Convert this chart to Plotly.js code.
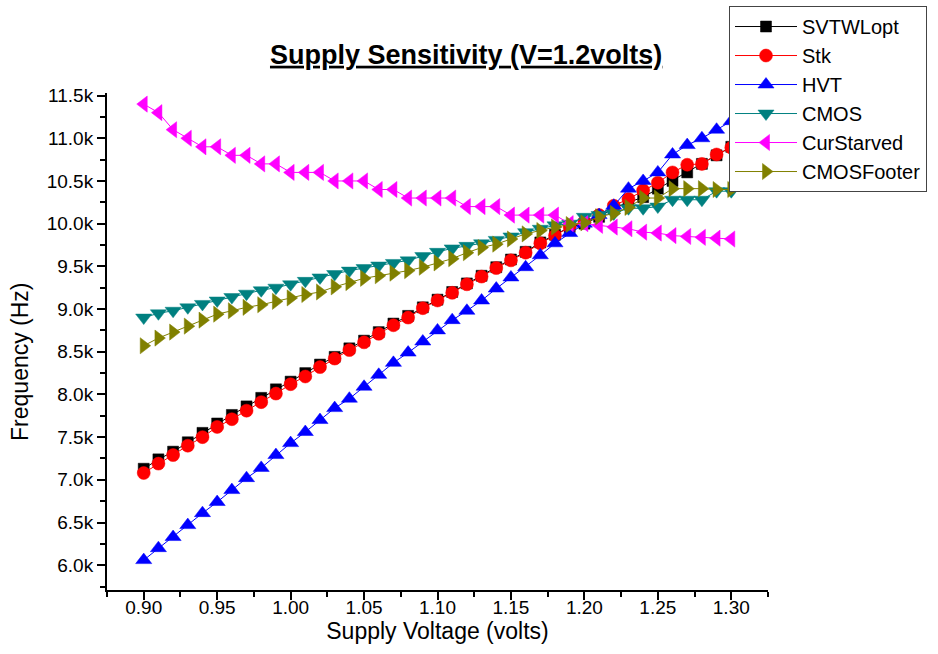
<!DOCTYPE html>
<html>
<head>
<meta charset="utf-8">
<script src="https://cdn.plot.ly/plotly-3.0.1.min.js"></script>
<style>
html,body{margin:0;padding:0;background:#fff;}
#chart{width:938px;height:654px;}
</style>
</head>
<body>
<div id="chart"></div>
<script>
// Supply voltage (volts)
var voltage = [0.90,0.91,0.92,0.93,0.94,0.95,0.96,0.97,0.98,0.99,
               1.00,1.01,1.02,1.03,1.04,1.05,1.06,1.07,1.08,1.09,
               1.10,1.11,1.12,1.13,1.14,1.15,1.16,1.17,1.18,1.19,
               1.20,1.21,1.22,1.23,1.24,1.25,1.26,1.27,1.28,1.29,1.30];

// Frequency values in kHz (axis labelled with "k" suffix)
var svtwlopt = [7.13,7.24,7.33,7.44,7.55,7.66,7.76,7.86,7.96,8.06,
                8.15,8.25,8.35,8.44,8.54,8.63,8.73,8.83,8.92,9.02,
                9.11,9.20,9.30,9.39,9.49,9.58,9.67,9.78,9.87,9.96,
                10.00,10.08,10.18,10.25,10.31,10.41,10.50,10.60,10.70,10.80,10.90];

var stk = [7.08,7.19,7.29,7.40,7.50,7.62,7.71,7.81,7.91,8.01,
           8.12,8.21,8.32,8.42,8.52,8.61,8.71,8.81,8.90,9.01,
           9.10,9.19,9.29,9.38,9.48,9.57,9.66,9.77,9.86,9.96,
           10.02,10.10,10.21,10.29,10.39,10.48,10.60,10.69,10.70,10.81,10.89];

var hvt = [6.06,6.20,6.33,6.47,6.61,6.74,6.88,7.02,7.14,7.29,
           7.43,7.56,7.70,7.84,7.95,8.09,8.23,8.37,8.49,8.62,
           8.75,8.87,8.98,9.10,9.24,9.37,9.49,9.63,9.77,9.89,
           10.00,10.10,10.21,10.41,10.50,10.60,10.81,10.92,11.00,11.10,11.20];

var cmos = [8.90,8.95,8.98,9.02,9.06,9.10,9.14,9.18,9.22,9.25,
            9.29,9.33,9.37,9.41,9.45,9.48,9.51,9.54,9.57,9.62,
            9.67,9.71,9.74,9.77,9.81,9.85,9.90,9.94,9.98,10.00,
            10.08,10.10,10.12,10.18,10.18,10.20,10.28,10.28,10.28,10.38,10.38];

var curStarved = [11.40,11.30,11.10,11.00,10.90,10.90,10.80,10.80,10.70,10.70,
                  10.60,10.60,10.60,10.50,10.50,10.50,10.40,10.40,10.30,10.30,
                  10.30,10.30,10.20,10.20,10.20,10.10,10.10,10.10,10.10,10.00,
                  10.00,9.98,9.96,9.94,9.90,9.89,9.86,9.85,9.84,9.83,9.82];

var cmosFooter = [8.57,8.66,8.73,8.80,8.87,8.94,8.98,9.02,9.05,9.09,
                  9.13,9.17,9.20,9.26,9.31,9.36,9.39,9.42,9.45,9.49,
                  9.54,9.59,9.66,9.72,9.76,9.82,9.88,9.92,9.96,9.99,
                  10.01,10.08,10.12,10.19,10.30,10.30,10.41,10.41,10.41,10.40,10.40];

var seriesNames = ["SVTWLopt","Stk","HVT","CMOS","CurStarved","CMOSFooter"];
var seriesData = [svtwlopt, stk, hvt, cmos, curStarved, cmosFooter];
var seriesColors = ["#000000","#ff0000","#0000ff","#008080","#ff00ff","#808000"];
var seriesSymbols = ["square","circle","triangle-up","triangle-down","triangle-left","triangle-right"];
var seriesSizes = [11,13,14,14,14,14];

var FONT = "Liberation Sans, Arial, Helvetica, sans-serif";

var traces = seriesNames.map(function(name, i){
  return {
    type: "scatter",
    mode: "lines+markers",
    name: name,
    x: voltage,
    y: seriesData[i],
    line: {color: seriesColors[i], width: 1},
    marker: {symbol: seriesSymbols[i], size: seriesSizes[i], color: seriesColors[i],
             line: {color: seriesColors[i], width: 0.5}},
    cliponaxis: false
  };
});

var layout = {
  width: 938,
  height: 654,
  paper_bgcolor: "#ffffff",
  plot_bgcolor: "#ffffff",
  margin: {l: 107, r: 170, t: 93, b: 64, pad: 0, autoexpand: false},
  font: {family: FONT, color: "#000000", size: 19},
  title: {
    text: "<b><u>Supply Sensitivity (V=1.2volts)</u></b>",
    font: {family: FONT, size: 27, color: "#000000"},
    x: 0.497, xref: "container", xanchor: "center",
    y: 0.917, yref: "container", yanchor: "middle"
  },
  xaxis: {
    range: [0.875, 1.325],
    tickmode: "linear", tick0: 0.90, dtick: 0.05, tickformat: ".2f",
    ticks: "outside", ticklen: 8, tickwidth: 2, tickcolor: "#000",
    ticklabelstandoff: -9,
    minor: {dtick: 0.025, tick0: 0.875, ticks: "outside", ticklen: 5, tickwidth: 2, tickcolor: "#000"},
    showline: true, linecolor: "#000", linewidth: 2,
    showgrid: false, zeroline: false,
    tickfont: {family: FONT, size: 19, color: "#000"},
    title: {text: "Supply Voltage (volts)", font: {family: FONT, size: 23, color: "#000"}, standoff: 2}
  },
  yaxis: {
    range: [5.71, 11.53],
    tickmode: "linear", tick0: 6.0, dtick: 0.5, tickformat: ".1f", ticksuffix: "k",
    ticks: "outside", ticklen: 8, tickwidth: 2, tickcolor: "#000",
    minor: {dtick: 0.25, tick0: 6.0, ticks: "outside", ticklen: 5, tickwidth: 2, tickcolor: "#000"},
    showline: true, linecolor: "#000", linewidth: 2,
    showgrid: false, zeroline: false,
    tickfont: {family: FONT, size: 19, color: "#000"}
  },
  annotations: [{
    text: "Frequency (Hz)", textangle: -90,
    xref: "paper", x: -0.1315, xanchor: "center",
    yref: "paper", y: 0.459, yanchor: "middle",
    showarrow: false,
    font: {family: FONT, size: 23, color: "#000"}
  }],
  showlegend: true,
  legend: {
    x: 0.941, xanchor: "left", xref: "paper",
    y: 1.175, yanchor: "top", yref: "paper",
    bgcolor: "#ffffff", bordercolor: "#444", borderwidth: 1,
    font: {family: FONT, size: 20, color: "#000"},
    itemwidth: 62, tracegroupgap: 0
  }
};

Plotly.newPlot("chart", traces, layout, {displayModeBar: false, staticPlot: true});
</script>
</body>
</html>
